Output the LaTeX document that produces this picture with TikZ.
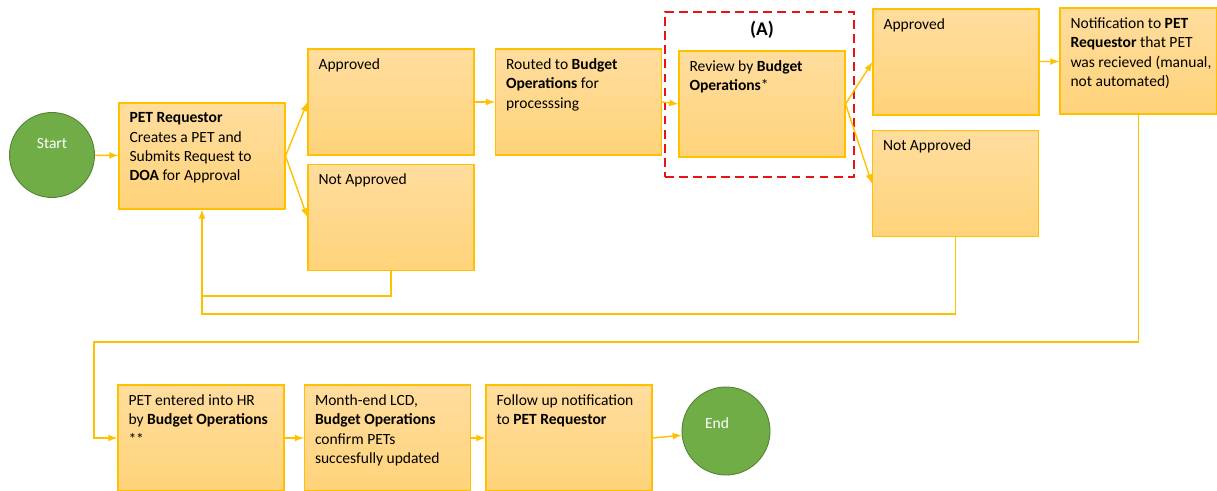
\documentclass[tikz,border=0pt]{standalone}
\usepackage{fontspec}
\setmainfont{Carlito}
\usepackage{tikz}
\usetikzlibrary{positioning}
\usetikzlibrary{arrows,shapes}
\definecolor{petgold}{RGB}{255,192,0}
\definecolor{pettop}{RGB}{255,221,158}
\definecolor{petbot}{RGB}{255,211,122}
\definecolor{petgreen}{RGB}{112,173,71}
\definecolor{petdkgreen}{RGB}{84,130,53}
\definecolor{petred}{RGB}{232,20,20}
\newcommand{\boxtext}[2][3.3cm]{\begin{minipage}[c][2.12cm][t]{#1}\raggedright\leftskip=0.2cm\vspace*{5.5pt}#2\end{minipage}}
\tikzset{
  petbox/.style={draw=petgold, line width=0.6pt, top color=pettop, bottom color=petbot,
    inner sep=0pt, minimum width=3.32cm, minimum height=2.12cm,
    font=\fontsize{8.85}{11}\selectfont},
  endpoint/.style={circle, draw=petdkgreen, line width=0.5pt, fill=petgreen, minimum size=1.7cm,
    inner sep=0pt, text=white, font=\fontsize{8.85}{11}\selectfont},
  flow/.style={draw=petgold, line width=0.8pt},
  groupbox/.style={draw=petred, line width=1.2pt, dash pattern=on 5pt off 3pt,
    minimum width=3.78cm, minimum height=3.3cm, inner sep=0pt}
}
\begin{document}
\begin{tikzpicture}[>=latex]
\useasboundingbox (0,0) rectangle (24.34,-9.82);
%\draw[help lines] (0,0) grid (24,-10);
\node[endpoint] (start) at (1.04,-3.1) {\raisebox{0.48cm}{Start}};
\node[petbox] (req) at (4.04,-3.12) {\boxtext{\textbf{PET Requestor}\\Creates a PET and\\Submits Request to\\\textbf{DOA} for Approval}};
\node[petbox] (app1) at (7.82,-2.04) {\boxtext{Approved}};
\node[petbox] (nap1) at (7.82,-4.35) {\boxtext{Not Approved}};
\node[petbox] (routed) at (11.57,-2.04) {\boxtext{Routed to \textbf{Budget}\\\textbf{Operations} for\\processsing}};
\node[groupbox] (grpA) at (15.19,-1.89) {};
\node[font=\fontsize{11}{13}\selectfont\bfseries] (lblA) at (15.24,-0.6) {(A)};
\node[petbox] (review) at (15.24,-2.08) {\boxtext{Review by \textbf{Budget}\\\textbf{Operations}*}};
\node[petbox] (app2) at (19.12,-1.24) {\boxtext{Approved}};
\node[petbox] (nap2) at (19.11,-3.67) {\boxtext{Not Approved}};
\node[petbox, minimum width=3.14cm] (notif) at (22.77,-1.22) {\boxtext[3.12cm]{Notification to \textbf{PET}\\\textbf{Requestor} that PET\\was recieved (manual,\\not automated)}};
\node[petbox] (entered) at (4.02,-8.76) {\boxtext{PET entered into HR\\by \textbf{Budget Operations}\\{}**}};
\node[petbox] (month) at (7.75,-8.76) {\boxtext{Month-end LCD,\\\textbf{Budget Operations}\\confirm PETs\\succesfully updated}};
\node[petbox] (follow) at (11.38,-8.76) {\boxtext{Follow up notification\\to \textbf{PET Requestor}}};
\node[endpoint, minimum size=1.76cm] (end) at (14.52,-8.62) {\raisebox{0.3cm}{End}\rule{0.36cm}{0pt}};
\coordinate (j1) at (req.south |- 0,-5.92);
\coordinate (j2) at (req.south |- 0,-6.28);
\coordinate (j3) at (1.88,-6.84);
\draw[flow,->] (start) -- (req);
\draw[flow,->] (req.east) -- (app1.west);
\draw[flow,->] (req.east) -- (nap1.west);
\draw[flow,->] (app1) -- (routed);
\draw[flow,->] (routed.east) -- (review.west);
\draw[flow,->] (review.east) -- (app2.west);
\draw[flow,->] (review.east) -- (nap2.west);
\draw[flow,->] (app2) -- (notif);
\draw[flow] (nap1.south) |- (j1);
\draw[flow] (nap2.south) |- (j2) -- (j1);
\draw[flow,->] (j1) -- (req.south);
\draw[flow,->] (notif.south) |- (j3) |- (entered.west);
\draw[flow,->] (entered) -- (month);
\draw[flow,->] (month) -- (follow);
\draw[flow,->] (follow.east) -- (end);
\end{tikzpicture}
\end{document}
